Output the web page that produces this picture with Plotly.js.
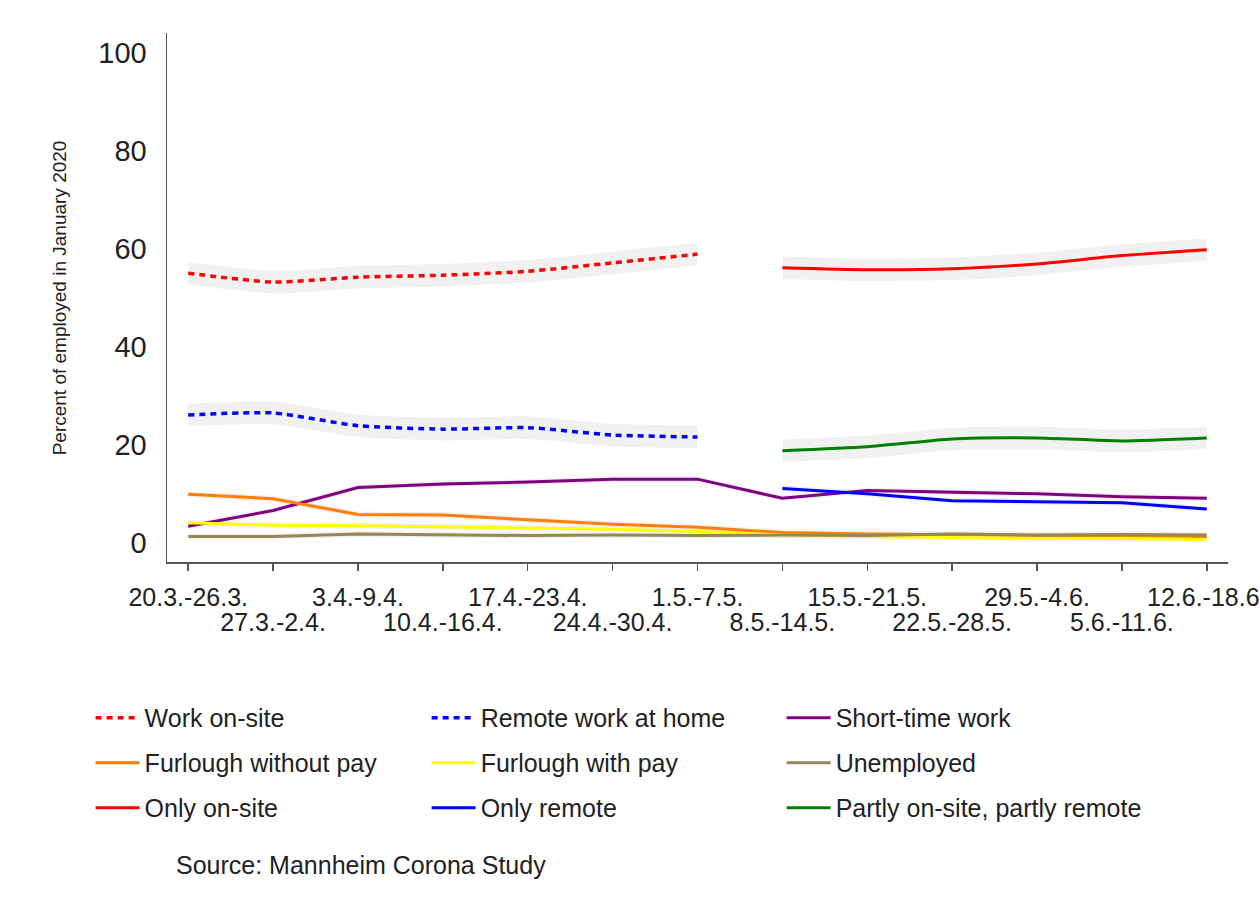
<!DOCTYPE html>
<html>
<head>
<meta charset="utf-8">
<script src="https://cdn.plot.ly/plotly-3.0.1.min.js"></script>
<style>
  html, body { margin: 0; padding: 0; background: #fff; }
  #chart { width: 1260px; height: 916px; }
</style>
</head>
<body>
<div id="chart"></div>
<script>
// weeks of the Mannheim Corona Study (2020)
var weeks = ['20.3.-26.3.', '27.3.-2.4.', '3.4.-9.4.', '10.4.-16.4.', '17.4.-23.4.', '24.4.-30.4.',
             '1.5.-7.5.', '8.5.-14.5.', '15.5.-21.5.', '22.5.-28.5.', '29.5.-4.6.', '5.6.-11.6.', '12.6.-18.6.'];
var firstWeeks = weeks.slice(0, 7);   // old question wording
var laterWeeks = weeks.slice(7);      // new question wording

// percent of employed in January 2020
var workOnsite    = [55.0, 53.2, 54.2, 54.6, 55.4, 57.1, 58.9];
var remoteHome    = [26.1, 26.5, 23.9, 23.2, 23.5, 22.0, 21.6];
var shortTime     = [3.4, 6.6, 11.3, 12.0, 12.4, 13.0, 13.0, 9.1, 10.7, 10.3, 10.0, 9.4, 9.1];
var furloughNoPay = [9.9, 9.0, 5.8, 5.7, 4.7, 3.8, 3.2, 2.1, 1.8, 1.6, 1.5, 1.4, 1.3];
var furloughPay   = [4.1, 3.6, 3.5, 3.3, 3.0, 2.8, 2.3, 1.6, 1.3, 1.1, 0.9, 0.9, 0.7];
var unemployed    = [1.3, 1.3, 1.8, 1.6, 1.5, 1.6, 1.5, 1.6, 1.5, 1.8, 1.6, 1.7, 1.6];
var onlyOnsite    = [56.1, 55.7, 55.9, 56.9, 58.6, 59.8];
var onlyRemote    = [11.1, 10.0, 8.6, 8.4, 8.2, 6.9];
var partly        = [18.8, 19.6, 21.2, 21.4, 20.8, 21.4];

// half width of the confidence band
var ciBig = 2.3, ciSmall = 0.6;

var font = 'Liberation Sans, Arial, sans-serif';

// legend: one plotly legend per column
var series = [
  {name: 'Work on-site',                 x: firstWeeks, y: workOnsite,    color: '#ff0000', dot: true,  ci: ciBig,   legend: 'legend'},
  {name: 'Remote work at home',          x: firstWeeks, y: remoteHome,    color: '#0000ff', dot: true,  ci: ciBig,   legend: 'legend2'},
  {name: 'Short-time work',              x: weeks,      y: shortTime,     color: '#800080', dot: false, ci: ciSmall, legend: 'legend3'},
  {name: 'Furlough without pay',         x: weeks,      y: furloughNoPay, color: '#ff7f00', dot: false, ci: ciSmall, legend: 'legend'},
  {name: 'Furlough with pay',            x: weeks,      y: furloughPay,   color: '#ffff00', dot: false, ci: ciSmall, legend: 'legend2'},
  {name: 'Unemployed',                   x: weeks,      y: unemployed,    color: '#968754', dot: false, ci: ciSmall, legend: 'legend3'},
  {name: 'Only on-site',                 x: laterWeeks, y: onlyOnsite,    color: '#ff0000', dot: false, ci: ciBig,   legend: 'legend'},
  {name: 'Only remote',                  x: laterWeeks, y: onlyRemote,    color: '#0000ff', dot: false, ci: ciSmall, legend: 'legend2'},
  {name: 'Partly on-site, partly remote', x: laterWeeks, y: partly,       color: '#008000', dot: false, ci: ciBig,   legend: 'legend3'}
];

var data = [];

// grey confidence bands, on the lower x axis
series.forEach(function(s) {
  var shape = s.ci === ciBig ? 'spline' : 'linear';
  data.push({
    x: s.x, y: s.y.map(function(v) { return v - s.ci; }),
    xaxis: 'x', yaxis: 'y', mode: 'lines', showlegend: false, hoverinfo: 'skip',
    line: {width: 0, shape: shape, smoothing: 0.6}
  });
  data.push({
    x: s.x, y: s.y.map(function(v) { return v + s.ci; }),
    xaxis: 'x', yaxis: 'y', mode: 'lines', showlegend: false, hoverinfo: 'skip',
    fill: 'tonexty', fillcolor: 'rgba(230,230,230,0.55)',
    line: {width: 0, shape: shape, smoothing: 0.6}
  });
});

// the lines themselves, on the overlaid axis so they sit above the bands
series.forEach(function(s) {
  data.push({
    x: s.x, y: s.y, name: s.name, legend: s.legend, legendgroup: s.name,
    xaxis: 'x2', yaxis: 'y', mode: 'lines',
    line: {color: s.color, width: s.dot ? 3.5 : 3,
           dash: s.dot ? '6px,5px' : 'solid',
           shape: s.ci === ciBig ? 'spline' : 'linear', smoothing: 0.6}
  });
});

var evenText = weeks.map(function(w, i) { return i % 2 === 0 ? w : ''; });
var oddWeeks = weeks.filter(function(w, i) { return i % 2 === 1; });

function legendColumn(x) {
  return {
    orientation: 'v', traceorder: 'grouped', tracegroupgap: 9.5,
    x: x, xanchor: 'left', y: -0.2513, yanchor: 'top',
    itemwidth: 44,
    font: {family: font, size: 25, color: '#222'},
    bgcolor: 'rgba(0,0,0,0)', itemclick: false, itemdoubleclick: false
  };
}

var layout = {
  width: 1260,
  height: 916,
  margin: {l: 167, r: 32, t: 33, b: 354},
  paper_bgcolor: '#fff',
  plot_bgcolor: '#fff',
  font: {family: font, color: '#222'},
  showlegend: true,
  xaxis: {
    type: 'category', categoryorder: 'array', categoryarray: weeks,
    range: [-0.25, 12.25],
    showgrid: false, zeroline: false,
    showline: true, linecolor: '#555', linewidth: 1.5,
    ticks: 'outside', ticklen: 7, tickcolor: '#555', tickwidth: 1.5,
    tickmode: 'array', tickvals: weeks, ticktext: evenText,
    tickfont: {family: font, size: 25, color: '#222'},
    ticklabelstandoff: 5, tickangle: 0
  },
  xaxis2: {
    type: 'category', categoryorder: 'array', categoryarray: weeks,
    overlaying: 'x', anchor: 'y', side: 'bottom',
    range: [-0.25, 12.25],
    showgrid: false, zeroline: false, showline: false,
    ticks: '', tickmode: 'array', tickvals: oddWeeks, ticktext: oddWeeks,
    tickfont: {family: font, size: 25, color: '#222'},
    ticklabelstandoff: 43, tickangle: 0
  },
  yaxis: {
    range: [-3.9, 104],
    showgrid: false, zeroline: false,
    showline: true, linecolor: '#555', linewidth: 1.5,
    ticks: '', tickmode: 'array', tickvals: [0, 20, 40, 60, 80, 100],
    tickfont: {family: font, size: 29, color: '#222'},
    ticklabelstandoff: 13
  },
  legend: legendColumn(-0.072),
  legend2: legendColumn(0.2447),
  legend3: legendColumn(0.5793),
  annotations: [
    {
      text: 'Percent of employed in January 2020',
      xref: 'paper', yref: 'paper', x: -0.101, y: 0.5,
      xanchor: 'center', yanchor: 'middle', textangle: -90, showarrow: false,
      font: {family: font, size: 19, color: '#222'}
    },
    {
      text: 'Source: Mannheim Corona Study',
      xref: 'paper', yref: 'paper', x: 0.0066, y: -0.573,
      xanchor: 'left', yanchor: 'middle', showarrow: false,
      font: {family: font, size: 25, color: '#222'}
    }
  ]
};

Plotly.newPlot('chart', data, layout, {displayModeBar: false, staticPlot: true});
</script>
</body>
</html>
